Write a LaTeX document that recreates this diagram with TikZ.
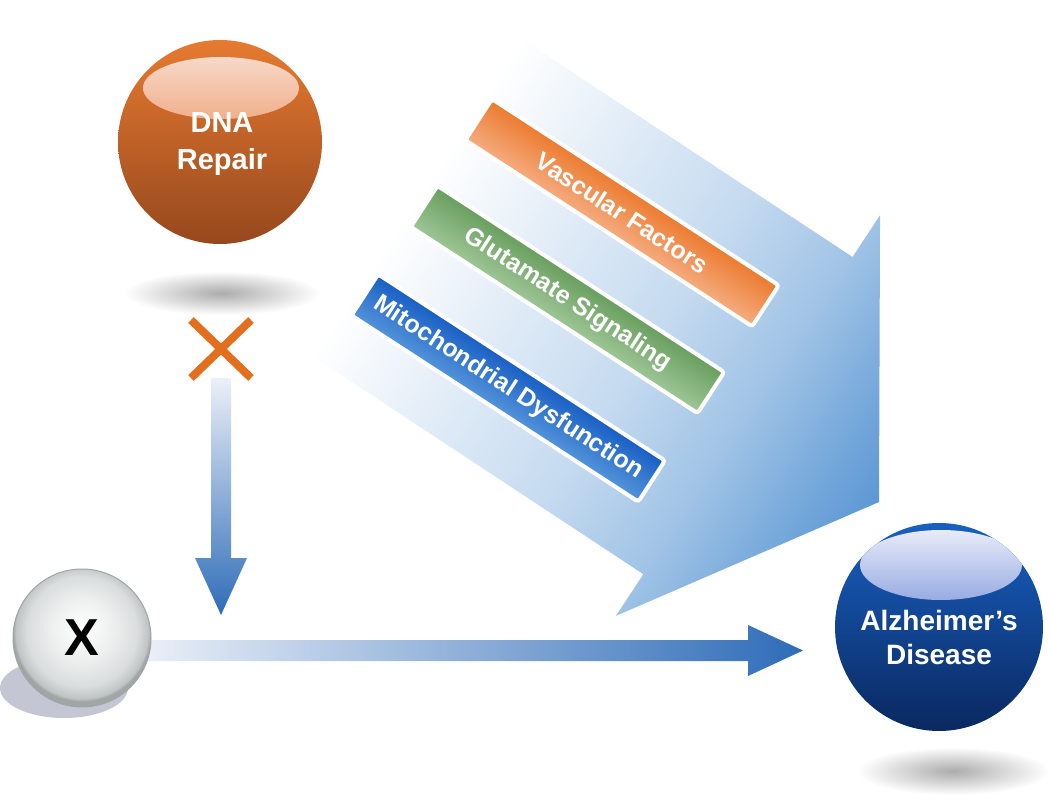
\documentclass[tikz,border=0pt]{standalone}
\usepackage{fontspec}
\setmainfont{Liberation Sans}
\usetikzlibrary{calc}
\definecolor{abl}{RGB}{92,152,212}
\definecolor{vfdark}{RGB}{236,122,46}
\definecolor{vflight}{RGB}{245,172,128}
\definecolor{gsdark}{RGB}{104,158,94}
\definecolor{gslight}{RGB}{158,198,150}
\definecolor{mddark}{RGB}{24,94,196}
\definecolor{mdlight}{RGB}{84,148,218}
\definecolor{dnatop}{RGB}{230,122,48}
\definecolor{dnabot}{RGB}{150,72,30}
\definecolor{dnahlbot}{RGB}{248,228,218}
\definecolor{dnahlmid}{RGB}{241,176,140}
\definecolor{dnahltop}{RGB}{233,128,62}
\definecolor{adtop}{RGB}{24,96,192}
\definecolor{adbot}{RGB}{10,40,96}
\definecolor{adhlbot}{RGB}{240,241,251}
\definecolor{adhlmid}{RGB}{150,170,226}
\definecolor{adhltop}{RGB}{40,96,196}
\definecolor{xg1}{RGB}{236,238,238}
\definecolor{xg2}{RGB}{218,221,221}
\definecolor{xg3}{RGB}{192,196,196}
\definecolor{xg4}{RGB}{160,165,165}
\definecolor{xshadowc}{RGB}{196,199,211}
\definecolor{blockorange}{RGB}{226,110,30}
\definecolor{arrlight}{RGB}{236,240,248}
\definecolor{arrdark}{RGB}{46,108,184}
\pgfdeclarehorizontalshading{bigarrowshade}{100bp}{color(0bp)=(white); color(30bp)=(white); color(42bp)=(abl!20!white); color(52bp)=(abl!35!white); color(62bp)=(abl!58!white); color(70bp)=(abl!85!white); color(75bp)=(abl); color(100bp)=(abl)}
\pgfdeclareradialshading{xball}{\pgfpoint{0bp}{4bp}}{color(0bp)=(white); color(12bp)=(xg1); color(20bp)=(xg2); color(24bp)=(xg3); color(25bp)=(xg4); color(50bp)=(xg4)}
\pgfdeclareverticalshading{dnahlshade}{100bp}{color(0bp)=(dnahltop); color(25bp)=(dnahltop); color(56bp)=(dnahlmid); color(75bp)=(dnahlbot); color(100bp)=(dnahlbot)}
\pgfdeclareverticalshading{adhlshade}{100bp}{color(0bp)=(adhltop); color(25bp)=(adhltop); color(56bp)=(adhlmid); color(75bp)=(adhlbot); color(100bp)=(adhlbot)}
\begin{document}
\begin{tikzpicture}[x=1pt,y=-1pt,
  lbl/.style={text=white, align=center, inner sep=0pt},
  ballnode/.style={circle, inner sep=0pt, draw=none},
  factor/.style={rectangle, rounded corners=3pt, minimum width=342pt, minimum height=49pt,
    draw=white, line width=4pt, text=white, font=\fontsize{25}{30}\selectfont\bfseries, inner sep=0pt},
  softshadow/.style={inner color=gray!65, outer color=white},
  blockmark/.style={draw=blockorange, line width=8pt},
]
\useasboundingbox (0,0) rectangle (1050,799);
\fill[white] (0,0) rectangle (1050,799);

% big block arrow
\coordinate (apex) at (879,502);
\begin{scope}[transform canvas={rotate around={-33.4:(apex)}}]
  \shade[shading=bigarrowshade] (265,312) -- (722,312) -- (722,262) -- (apex) -- (722,742) -- (722,692) -- (265,692) -- cycle;
\end{scope}

% factor boxes
\begin{scope}[transform canvas={rotate around={-33:(567.5,299.5)}}]
  \node[factor, top color=vfdark, bottom color=vflight] (vf) at (566,197) {Vascular Factors};
  \node[factor, top color=gsdark, bottom color=gslight] (gs) at (567.5,299.5) {Glutamate Signaling};
  \node[factor, top color=mddark, bottom color=mdlight] (md) at (566,406) {Mitochondrial Dysfunction};
\end{scope}

% DNA Repair sphere
\shade[softshadow] (222,293) ellipse [x radius=98, y radius=22];
\node[ballnode, minimum size=204pt, top color=dnatop, bottom color=dnabot,
  path picture={\shade[shading=dnahlshade] ($(path picture bounding box.center)+(1,-54)$) ellipse [x radius=78, y radius=31];}] (dna) at (220,142) {};
\node[lbl, font=\fontsize{29}{37}\selectfont\bfseries] (dnal) at (222,144) {DNA\\Repair};

% vertical arrow
\coordinate (vtop) at (221,378);
\coordinate (vtip) at (221,615);
\shade[top color=arrlight, bottom color=arrdark] (vtop) ++(-10,0) -- ++(0,180) -- ++(-16,0) -- (vtip) -- ++(26,-57) -- ++(-16,0) -- ++(0,-180) -- cycle;

% blocked mark
\coordinate (blk) at (221,349);
\draw[blockmark] (blk) ++(-30,-29) -- ++(60,58);
\draw[blockmark] (blk) ++(30,-29) -- ++(-60,58);

% horizontal arrow
\coordinate (hs) at (140,650.5);
\coordinate (he) at (803,650.5);
\shade[left color=arrlight, right color=arrdark] (hs) ++(0,-10.5) -- ++(608,0) -- ++(0,-15) -- (he) -- ++(-55,25.5) -- ++(0,-15) -- ++(-608,0) -- cycle;

% X sphere
\fill[xshadowc] (64,688) ellipse [x radius=64, y radius=30];
\node[ballnode, minimum size=138pt, shading=xball, draw=xg4, line width=1pt,
  font=\fontsize{52}{60}\selectfont\bfseries] (xs) at (82,638) {X};

% Alzheimer's Disease sphere
\shade[softshadow] (953,771) ellipse [x radius=96, y radius=24];
\node[ballnode, minimum size=208pt, top color=adtop, bottom color=adbot,
  path picture={\shade[shading=adhlshade] ($(path picture bounding box.center)+(2,-62)$) ellipse [x radius=81, y radius=35];}] (ad) at (939,627) {};
\node[lbl, font=\fontsize{28}{34}\selectfont\bfseries] (adl) at (939,637) {Alzheimer’s\\Disease};
\end{tikzpicture}
\end{document}
